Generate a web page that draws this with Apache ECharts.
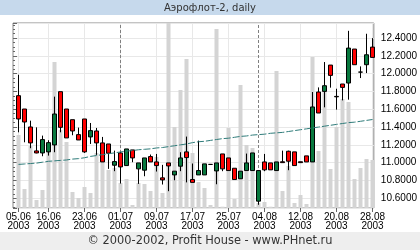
<!DOCTYPE html>
<html><head><meta charset="utf-8">
<script src="https://cdn.jsdelivr.net/npm/echarts@6/dist/echarts.min.js"></script>
<style>html,body{margin:0;padding:0;background:#fff}#c{width:420px;height:250px}</style>
</head><body><div id="c"></div>
<script>
const categories = [
 '05.06.2003','06.06.2003','09.06.2003','10.06.2003','11.06.2003','16.06.2003','17.06.2003','18.06.2003','19.06.2003','20.06.2003',
 '21.06.2003','23.06.2003','24.06.2003','25.06.2003','26.06.2003','27.06.2003','30.06.2003',
 '01.07.2003','02.07.2003','03.07.2003','04.07.2003','07.07.2003','08.07.2003','09.07.2003','10.07.2003','11.07.2003','14.07.2003',
 '15.07.2003','16.07.2003','17.07.2003','18.07.2003','21.07.2003','22.07.2003','23.07.2003','24.07.2003','25.07.2003','28.07.2003',
 '29.07.2003','30.07.2003','31.07.2003',
 '01.08.2003','04.08.2003','05.08.2003','06.08.2003','07.08.2003','08.08.2003','11.08.2003','12.08.2003','13.08.2003','14.08.2003',
 '15.08.2003','18.08.2003','19.08.2003','20.08.2003','21.08.2003','22.08.2003','25.08.2003','26.08.2003','27.08.2003','28.08.2003'
];
const opens  = [11.753,11.603,11.401,11.132,11.109,11.121,11.199,11.798,11.603,11.483,
                11.315,11.491,11.289,11.356,11.222,11.210,10.971,11.109,10.967,11.143,
                10.930,10.915,11.068,11.008,10.829,10.997,10.862,10.960,11.121,10.810,
                10.862,10.862,10.980,10.907,11.098,11.053,10.937,10.819,10.911,10.911,
                10.567,11.008,10.997,10.911,11.010,11.128,11.121,11.010,11.076,11.008,
                11.794,11.801,12.097,11.745,11.884,11.895,12.277,12.018,12.101,12.299];
const closes = [11.491,11.457,11.222,11.109,11.259,11.225,11.547,11.397,11.278,11.356,
                11.255,11.121,11.360,11.222,11.008,11.106,11.012,10.952,11.154,11.053,
                10.997,11.053,11.008,10.967,10.806,10.963,10.904,11.053,11.057,10.778,
                10.911,10.986,10.980,10.997,10.930,10.911,10.810,10.904,10.997,11.109,
                10.911,10.919,10.919,11.008,11.000,11.016,10.967,11.000,11.008,11.626,
                11.558,11.865,11.981,11.740,11.846,12.288,12.101,12.018,12.213,12.183];
const lows   = [11.341,11.229,11.162,11.105,11.072,11.079,11.117,11.341,11.278,11.308,
                11.255,11.109,11.210,11.087,11.008,10.930,10.904,10.765,10.967,11.005,
                10.761,10.847,11.008,10.900,10.754,10.679,10.802,10.904,10.778,10.778,
                10.862,10.862,10.975,10.757,10.904,10.911,10.810,10.819,10.911,10.911,
                10.526,10.904,10.919,10.911,11.000,10.915,10.967,11.000,11.008,11.008,
                11.558,11.622,11.843,11.596,11.700,11.708,12.101,11.951,12.007,12.183];
const highs  = [11.988,11.603,11.472,11.397,11.304,11.252,11.742,11.798,11.603,11.483,
                11.394,11.491,11.446,11.390,11.289,11.210,11.135,11.120,11.154,11.143,
                10.997,11.053,11.091,11.098,10.975,10.997,10.904,11.117,11.293,10.990,
                11.248,10.986,10.985,10.997,11.098,11.053,10.937,10.904,11.102,11.109,
                10.911,11.098,10.997,11.008,11.135,11.135,11.121,11.010,11.076,11.794,
                11.846,12.131,12.097,11.831,11.884,12.482,12.277,12.082,12.449,12.400];
const volumes = [73,19,62,8,18,56,146,78,66,16,
                 10,21,15,55,46,38,40,25,29,3,
                 25,24,17,51,15,190,81,118,149,55,
                 26,20,3,179,1.3,80,9,123,63,60,
                 5,6,1.3,137,17,42,5,13,4,151,
                 57,116,39,81,109,106,29,40,49,48];
const ma = [10.980,10.985,10.990,10.995,11.005,11.015,11.020,11.025,11.030,11.040,
            11.045,11.055,11.070,11.080,11.090,11.100,11.110,11.120,11.130,11.135,
            11.145,11.150,11.155,11.165,11.170,11.180,11.190,11.200,11.210,11.225,
            11.235,11.240,11.250,11.260,11.270,11.275,11.285,11.295,11.300,11.310,
            11.315,11.320,11.330,11.335,11.340,11.350,11.360,11.370,11.380,11.390,
            11.400,11.410,11.420,11.430,11.440,11.450,11.455,11.465,11.475,11.485];
const tickDates = ['05.06.2003','16.06.2003','23.06.2003','01.07.2003','09.07.2003','17.07.2003',
                   '25.07.2003','04.08.2003','12.08.2003','20.08.2003','28.08.2003'];
const monthStarts = ['01.07.2003','01.08.2003'];
const priceMin = 10.49, priceMax = 12.57, volumeMax = 185;

const FONT = "'Liberation Sans Narrow','Liberation Sans',Arial,sans-serif";
const isTick = (i, v) => tickDates.indexOf(v) >= 0;
const candleData = categories.map((d, i) => [opens[i], closes[i], lows[i], highs[i]]);

const chart = echarts.init(document.getElementById('c'), null, {renderer: 'canvas'});
chart.setOption({
  animation: false,
  backgroundColor: '#ffffff',
  graphic: [
    {type: 'rect', silent: true, z: -10, shape: {x: 0, y: 0, width: 420, height: 15}, style: {fill: '#c6d9ec'}},
    {type: 'rect', silent: true, z: -10, shape: {x: 0, y: 232, width: 420, height: 18}, style: {fill: '#eeeeee'}}
  ],
  title: [
    {text: 'Аэрофлот-2, daily', left: 'center', top: 2, padding: 0,
     textStyle: {fontFamily: 'DejaVu Sans', fontSize: 10, fontWeight: 'normal', color: '#333', lineHeight: 12}},
    {text: '© 2000-2002, Profit House - www.PHnet.ru', left: 'center', top: 235, padding: 0,
     textStyle: {fontFamily: 'DejaVu Sans', fontSize: 11.4, fontWeight: 'normal', color: '#333', lineHeight: 13}}
  ],
  grid: [
    {left: 15.5, width: 360, top: 23, height: 185, show: false},
    {left: 13, width: 365, top: 23, height: 185, show: true, borderColor: '#888', borderWidth: 1, backgroundColor: 'transparent'}
  ],
  xAxis: [
    {type: 'category', gridIndex: 0, data: categories, boundaryGap: true,
     axisLine: {show: false},
     axisTick: {show: true, alignWithLabel: true, interval: isTick, length: 4, lineStyle: {color: '#666'}},
     axisLabel: {interval: isTick, margin: 4, fontSize: 10, lineHeight: 9.5, color: '#000', fontFamily: FONT,
                 formatter: v => v.slice(0, 5) + '\n' + v.slice(6)},
     splitLine: {show: false}},
    {type: 'value', gridIndex: 1, show: false, min: 0, max: 1}
  ],
  yAxis: [
    {type: 'value', gridIndex: 0, min: priceMin, max: priceMax, show: false},
    {type: 'value', gridIndex: 0, min: 0, max: volumeMax, show: false},
    {type: 'value', gridIndex: 1, position: 'right', min: priceMin, max: priceMax, splitNumber: 10,
     axisLine: {show: false},
     axisTick: {show: true, length: 4, lineStyle: {color: '#666'}},
     minorTick: {show: true, splitNumber: 4, length: 2, lineStyle: {color: '#666'}},
     axisLabel: {showMinLabel: false, showMaxLabel: false, margin: 7, fontSize: 10, color: '#000', fontFamily: FONT,
                 formatter: v => v.toFixed(4)},
     splitLine: {show: true, lineStyle: {color: '#e8e8e8'}}}
  ],
  series: [
    {type: 'bar', name: 'volume', xAxisIndex: 0, yAxisIndex: 1, data: volumes, barWidth: 4, z: 2,
     itemStyle: {color: '#d4d4d4'},
     markLine: {silent: true, symbol: 'none', z: 1, animation: false, label: {show: false},
       data: tickDates.map(d => ({xAxis: d, lineStyle: {color: '#e8e8e8', type: 'solid', width: 1}}))
         .concat(monthStarts.map(d => ({xAxis: d, lineStyle: {color: '#808080', type: [3, 2], width: 1}})))}},
    {type: 'candlestick', name: 'price', xAxisIndex: 0, yAxisIndex: 0, data: candleData, barWidth: 4, z: 3,
     itemStyle: {color: '#08783e', color0: '#ff0000', borderColor: '#000', borderColor0: '#000', borderColorDoji: '#000', borderWidth: 1}},
    {type: 'line', name: 'ma', xAxisIndex: 0, yAxisIndex: 0, data: ma, symbol: 'none', z: 4,
     lineStyle: {color: '#2f7c7a', width: 1, type: [7, 2]}}
  ]
});
</script></body></html>
